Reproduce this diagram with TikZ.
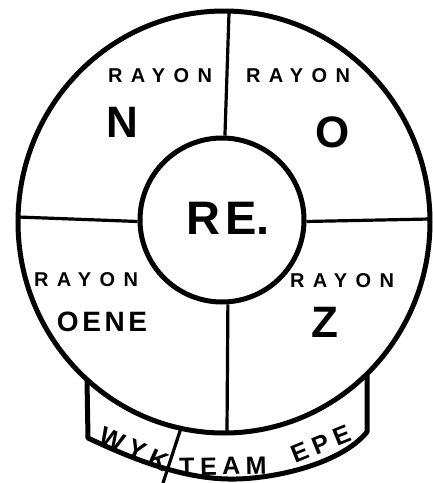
\documentclass[tikz,border=0pt]{standalone}
\usepackage{fontspec}
\setmainfont{Liberation Sans}
\newfontfamily\rayfont[LetterSpace=42]{Liberation Sans}
\newfontfamily\midfont[LetterSpace=13]{Liberation Sans}
\newfontfamily\banfont[LetterSpace=22]{Liberation Sans}
\begin{document}
\begin{tikzpicture}[x=1pt,y=-1pt,
  thick line/.style={line width=5pt},
  thin line/.style={line width=3.2pt},
  rayon/.style={font=\rayfont\bfseries\fontsize{20}{21}\selectfont, inner sep=0pt},
  big/.style={font=\bfseries\fontsize{44}{46}\selectfont, inner sep=0pt},
  mid/.style={font=\midfont\bfseries\fontsize{28}{30}\selectfont, inner sep=0pt},
  ban/.style={font=\banfont\bfseries\fontsize{25}{27}\selectfont, inner sep=0pt}]
\useasboundingbox (0,0) rectangle (433,483);
% outer disc
\coordinate (c) at (224,222);
\draw[thick line] (c) ellipse [x radius=206, y radius=211];
% inner disc
\node[draw, circle, thick line, minimum size=164pt, inner sep=0pt] (re) at (222,220) {};
\node[font=\bfseries\fontsize{47}{49}\selectfont, inner sep=0pt] (retext) at (228,218) {R\kern5pt E.};
% dividers
\coordinate (topend) at (229,13);
\coordinate (botend) at (227,431);
\coordinate (leftend) at (18,217);
\coordinate (rightend) at (430,219);
\draw[thin line] (re.88) -- (topend);
\draw[thin line] (re.-86) -- (botend);
\draw[thin line] (re.181) -- (leftend);
\draw[thin line] (re.-1) -- (rightend);
% labels
\node[rayon] (r1) at (160,76) {RAYON};
\node[rayon] (r2) at (298,76) {RAYON};
\node[rayon] (r3) at (86,280) {RAYON};
\node[rayon] (r4) at (342,281) {RAYON};
\node[big] (n) at (122,122) {N};
\node[big] (o) at (333,132) {O};
\node[big] (z) at (325,322) {Z};
\node[mid] (oene) at (102,322) {OENE};
% banner
\coordinate (tl) at (87,380);
\coordinate (bl) at (88,438);
\coordinate (bm) at (228,479);
\coordinate (br) at (367,432);
\coordinate (tr) at (367,374);
\draw[thick line, line join=round] (tl) -- (bl) .. controls (130,458) and (180,478) .. (bm)
  .. controls (270,480) and (340,465) .. (br) -- (tr);
\coordinate (dtop) at (181,428);
\coordinate (dbot) at (163,483);
\draw[thin line] (dtop) -- (dbot);
\node[ban, rotate=-24, font=\banfont\bfseries\fontsize{26}{28}\selectfont] (wyk) at (134,449) {WYK};
\node[ban, rotate=1] (team) at (223,466) {TEAM};
\node[ban, rotate=22] (epe) at (321,444) {EPE};
\end{tikzpicture}
\end{document}
